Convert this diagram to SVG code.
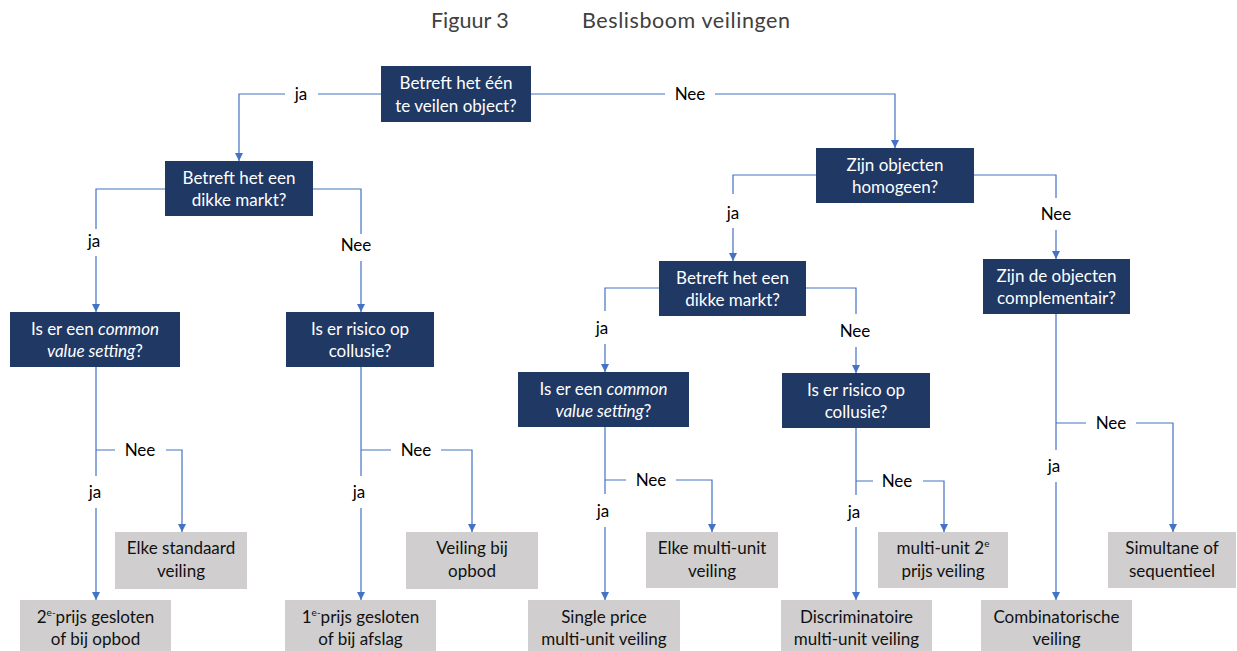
<svg xmlns="http://www.w3.org/2000/svg" width="1237" height="651" viewBox="0 0 1237 651">
<style>
.q{fill:#203864}
.l{fill:#D0CECE}
.qt{font-family:Lato,"Liberation Sans",sans-serif;font-size:17px;fill:#ffffff;text-anchor:middle}
.lt{font-family:Lato,"Liberation Sans",sans-serif;font-size:17px;fill:#111111;text-anchor:middle}
.lab{font-family:Lato,"Liberation Sans",sans-serif;font-size:17px;fill:#000000;text-anchor:middle}
.ttl{font-family:Lato,"Liberation Sans",sans-serif;font-size:21.5px;fill:#404040}
.c{fill:none;stroke:#4472C4;stroke-width:1.2}
.a{marker-end:url(#arr)}
.sup{font-size:10px}
</style>
<defs>
<marker id="arr" markerUnits="userSpaceOnUse" markerWidth="8" markerHeight="8" refX="8" refY="4" orient="auto">
<path d="M0,0 L8,4 L0,8 z" fill="#4472C4"/>
</marker>
</defs>
<rect width="1237" height="651" fill="#ffffff"/>
<g id="title">
<text class="ttl" x="431" y="28">Figuur 3</text>
<text class="ttl" x="582" y="28" textLength="208">Beslisboom veilingen</text>
</g>
<g id="connectors">
<path class="c" d="M381,94 H318"/>
<path class="c a" d="M285,94 H239 V161"/>
<path class="c" d="M531,94 H665"/>
<path class="c a" d="M715,94 H895 V148"/>
<path class="c" d="M165,189 H96 V229"/>
<path class="c a" d="M96,256 V312"/>
<path class="c" d="M313,189 H361 V234"/>
<path class="c a" d="M361,261 V312"/>
<path class="c" d="M96,367 V476 M96,450 H115"/>
<path class="c a" d="M166,450 H182 V532"/>
<path class="c a" d="M96,508 V600"/>
<path class="c" d="M361,367 V476 M361,450 H391"/>
<path class="c a" d="M441,450 H472 V532"/>
<path class="c a" d="M361,508 V600"/>
<path class="c" d="M816,175 H733 V194"/>
<path class="c a" d="M733,228 V261"/>
<path class="c" d="M974,175 H1056 V198"/>
<path class="c a" d="M1056,230 V259"/>
<path class="c" d="M659,288 H605 V311"/>
<path class="c a" d="M605,344 V372"/>
<path class="c" d="M806,288 H856 V314"/>
<path class="c a" d="M856,347 V373"/>
<path class="c" d="M605,427 V494 M605,480 H626"/>
<path class="c a" d="M676,480 H712 V532"/>
<path class="c a" d="M605,527 V600"/>
<path class="c" d="M856,428 V495 M856,481 H873"/>
<path class="c a" d="M923,481 H944 V532"/>
<path class="c a" d="M856,527 V600"/>
<path class="c" d="M1056,314 V450 M1056,423 H1086"/>
<path class="c a" d="M1136,423 H1173 V532"/>
<path class="c a" d="M1056,482 V600"/>
<text class="lab" x="301" y="100">ja</text>
<text class="lab" x="690" y="100">Nee</text>
<text class="lab" x="94" y="247">ja</text>
<text class="lab" x="356" y="251">Nee</text>
<text class="lab" x="140" y="456">Nee</text>
<text class="lab" x="95" y="498">ja</text>
<text class="lab" x="416" y="456">Nee</text>
<text class="lab" x="359" y="498">ja</text>
<text class="lab" x="733" y="219">ja</text>
<text class="lab" x="1056" y="220">Nee</text>
<text class="lab" x="602" y="334">ja</text>
<text class="lab" x="855" y="337">Nee</text>
<text class="lab" x="651" y="486">Nee</text>
<text class="lab" x="603" y="517">ja</text>
<text class="lab" x="897" y="487">Nee</text>
<text class="lab" x="854" y="518">ja</text>
<text class="lab" x="1111" y="429">Nee</text>
<text class="lab" x="1054" y="472">ja</text>
</g>
<g id="q-root">
<rect class="q" x="381" y="66" width="150" height="56"/>
<text class="qt" x="456" y="89">Betreft het één</text>
<text class="qt" x="456" y="112">te veilen object?</text>
</g>
<g id="q-dik1">
<rect class="q" x="165" y="161" width="148" height="55"/>
<text class="qt" x="239" y="183.5">Betreft het een</text>
<text class="qt" x="239" y="206">dikke markt?</text>
</g>
<g id="q-cvs1">
<rect class="q" x="10" y="312" width="170" height="55"/>
<text class="qt" x="95" y="334.5">Is er een <tspan font-style="italic">common</tspan></text>
<text class="qt" x="95" y="357"><tspan font-style="italic">value setting</tspan>?</text>
</g>
<g id="q-col1">
<rect class="q" x="286" y="312" width="148" height="55"/>
<text class="qt" x="360" y="334.5">Is er risico op</text>
<text class="qt" x="360" y="357">collusie?</text>
</g>
<g id="q-hom">
<rect class="q" x="816" y="148" width="158" height="55"/>
<text class="qt" x="895" y="170.5">Zijn objecten</text>
<text class="qt" x="895" y="193">homogeen?</text>
</g>
<g id="q-dik2">
<rect class="q" x="659" y="261" width="147" height="55"/>
<text class="qt" x="732.5" y="283.5">Betreft het een</text>
<text class="qt" x="732.5" y="306">dikke markt?</text>
</g>
<g id="q-cvs2">
<rect class="q" x="518" y="372" width="171" height="55"/>
<text class="qt" x="603.5" y="394.5">Is er een <tspan font-style="italic">common</tspan></text>
<text class="qt" x="603.5" y="417"><tspan font-style="italic">value setting</tspan>?</text>
</g>
<g id="q-col2">
<rect class="q" x="782" y="373" width="148" height="55"/>
<text class="qt" x="856" y="395.5">Is er risico op</text>
<text class="qt" x="856" y="418">collusie?</text>
</g>
<g id="q-comp">
<rect class="q" x="983" y="259" width="147" height="55"/>
<text class="qt" x="1056.5" y="281.5">Zijn de objecten</text>
<text class="qt" x="1056.5" y="304">complementair?</text>
</g>
<g id="l-std">
<rect class="l" x="115" y="532" width="132" height="57"/>
<text class="lt" x="181" y="554">Elke standaard</text>
<text class="lt" x="181" y="577">veiling</text>
</g>
<g id="l-2e">
<rect class="l" x="20" y="600" width="151" height="52"/>
<text class="lt" x="95.5" y="622.5">2<tspan class="sup" dy="-7">e-</tspan><tspan dy="7">prijs gesloten</tspan></text>
<text class="lt" x="95.5" y="645">of bij opbod</text>
</g>
<g id="l-opbod">
<rect class="l" x="406" y="532" width="132" height="57"/>
<text class="lt" x="472" y="554">Veiling bij</text>
<text class="lt" x="472" y="577">opbod</text>
</g>
<g id="l-1e">
<rect class="l" x="285" y="600" width="151" height="52"/>
<text class="lt" x="360.5" y="622.5">1<tspan class="sup" dy="-7">e-</tspan><tspan dy="7">prijs gesloten</tspan></text>
<text class="lt" x="360.5" y="645">of bij afslag</text>
</g>
<g id="l-mu">
<rect class="l" x="646" y="532" width="132" height="56"/>
<text class="lt" x="712" y="554">Elke multi-unit</text>
<text class="lt" x="712" y="577">veiling</text>
</g>
<g id="l-single">
<rect class="l" x="528" y="600" width="152" height="52"/>
<text class="lt" x="604" y="622.5">Single price</text>
<text class="lt" x="604" y="645">multi-unit veiling</text>
</g>
<g id="l-mu2e">
<rect class="l" x="878" y="532" width="130" height="56"/>
<text class="lt" x="943" y="554">multi-unit 2<tspan class="sup" dy="-7">e</tspan></text>
<text class="lt" x="943" y="577">prijs veiling</text>
</g>
<g id="l-disc">
<rect class="l" x="781" y="600" width="151" height="52"/>
<text class="lt" x="856.5" y="622.5">Discriminatoire</text>
<text class="lt" x="856.5" y="645">multi-unit veiling</text>
</g>
<g id="l-sim">
<rect class="l" x="1108" y="532" width="128" height="56"/>
<text class="lt" x="1172" y="554">Simultane of</text>
<text class="lt" x="1172" y="577">sequentieel</text>
</g>
<g id="l-comb">
<rect class="l" x="981" y="600" width="151" height="52"/>
<text class="lt" x="1056.5" y="622.5">Combinatorische</text>
<text class="lt" x="1056.5" y="645">veiling</text>
</g>
</svg>
